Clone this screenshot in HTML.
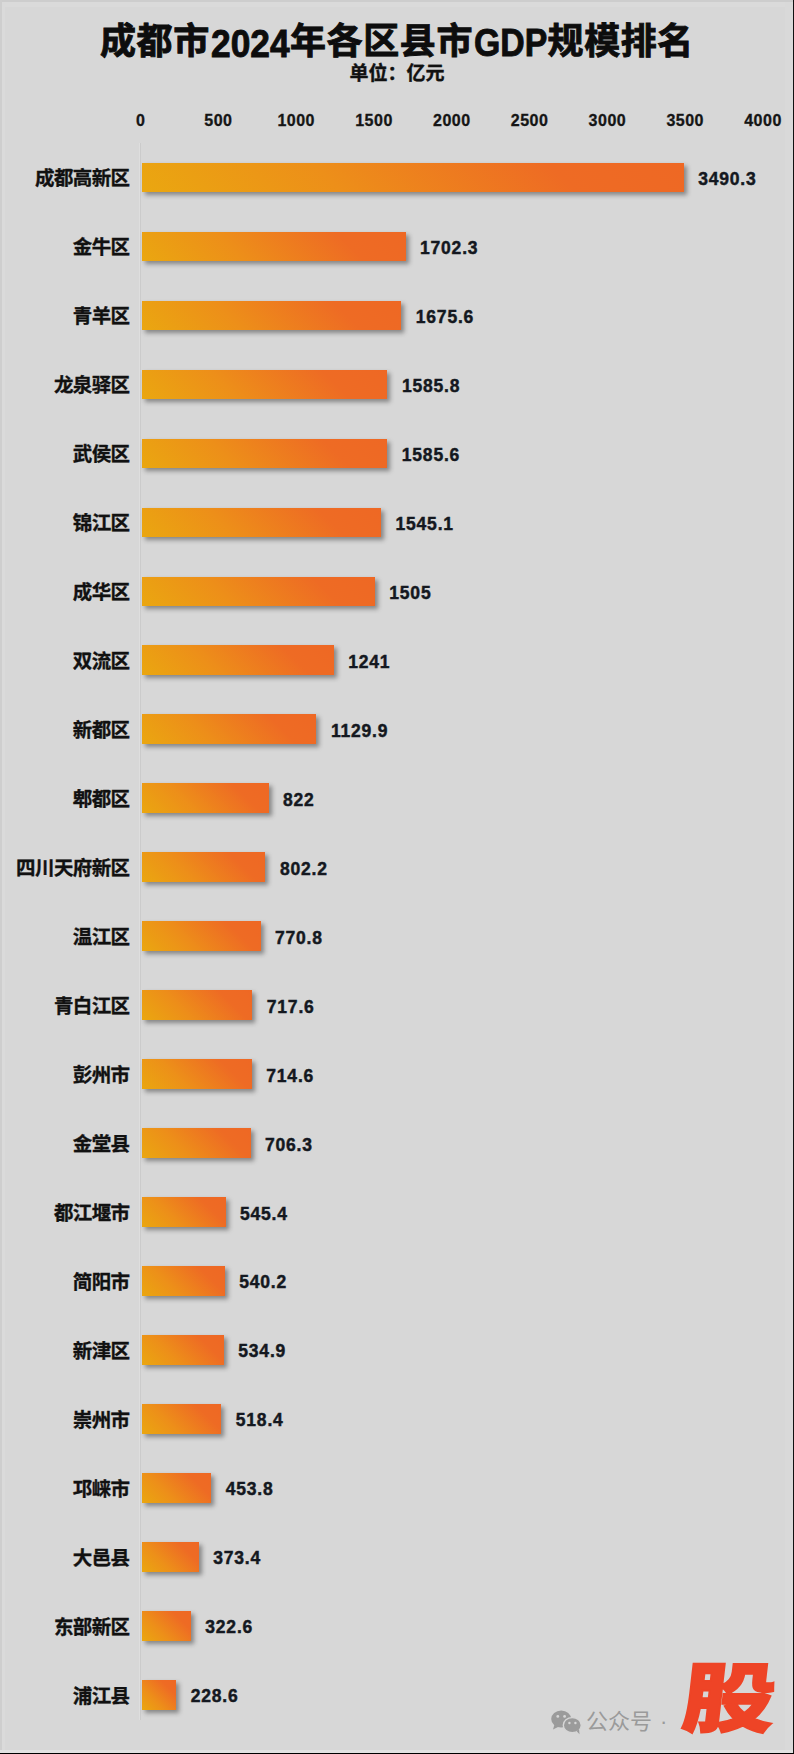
<!DOCTYPE html>
<html lang="zh-CN">
<head>
<meta charset="utf-8">
<title>成都市2024年各区县市GDP规模排名</title>
<style>
html,body{margin:0;padding:0;}
body{width:794px;height:1754px;position:relative;overflow:hidden;background:#d7d7d7;
 font-family:"Liberation Sans","Noto Sans CJK SC",sans-serif;font-weight:bold;color:#111;}
.abs{position:absolute;}
.title{left:0;width:794px;top:15px;height:52px;line-height:52px;text-align:center;font-size:36px;letter-spacing:.6px;white-space:nowrap;color:#0d0d0d;-webkit-text-stroke:.9px #0d0d0d;}
.title .n{display:inline-block;font-size:38px;letter-spacing:0;position:relative;top:3px;transform:scaleX(.93);transform-origin:0 50%;margin-right:-5.2px;margin-left:.8px;}
.title .g{display:inline-block;font-size:38px;letter-spacing:0;position:relative;top:2px;transform:scaleX(.89);transform-origin:0 50%;margin-right:-8.4px;margin-left:.6px;}
.sub{left:0;width:794px;top:61px;height:26px;line-height:26px;text-align:center;font-size:19px;white-space:nowrap;color:#111;-webkit-text-stroke:.4px #111;}
.tick{top:111px;height:20px;line-height:20px;width:80px;margin-left:-40px;text-align:center;font-size:16px;letter-spacing:.5px;color:#151515;-webkit-text-stroke:.3px #151515;}
.axis{left:140px;top:143px;width:1px;height:1577px;background:#cbcbcb;}
.axis2{left:139px;top:143px;width:1px;height:1577px;background:#dedede;}
.lab{left:0;width:129.5px;text-align:right;height:30px;line-height:30px;font-size:19.5px;white-space:nowrap;letter-spacing:-.6px;color:#111;-webkit-text-stroke:.35px #111;}
.bar{left:142px;height:29.5px;background:linear-gradient(45deg,#eaa710 0%,#ed8f19 35%,#ee6b24 76%,#ee6824 100%);box-shadow:3px 3px 4.5px rgba(0,0,0,.38);}
.bT1{left:0;top:0;width:794px;height:2px;background:#cdcdcd;}
.bT2{left:0;top:2px;width:794px;height:5px;background:#dadada;}
.bL1{left:0;top:0;width:2px;height:1754px;background:#cecece;}
.bL2{left:2px;top:2px;width:3px;height:1750px;background:#dadada;}
.bR2{left:785px;top:2px;width:8px;height:1750px;background:#d9d9d9;}
.bB2{left:0;top:1750px;width:794px;height:3px;background:#e2e2e2;}
.bR1{left:793px;top:0;width:1px;height:1754px;background:#111;}
.bB1{left:0;top:1753px;width:794px;height:1px;background:#000;}
.wm{left:586px;word-spacing:2px;top:1707px;height:30px;line-height:30px;font-size:22px;font-weight:normal;color:#9a9a9a;white-space:nowrap;}
.wx{left:550px;top:1707px;width:34px;height:28px;}
.gu{left:673px;top:1644.8px;width:100px;height:110px;line-height:110px;text-align:center;font-size:76px;font-weight:900;color:#ee4426;
 -webkit-text-stroke:1.6px #ee4426;transform:skewX(-6.5deg) scaleX(1.22);transform-origin:50% 100%;}
.val{height:30px;line-height:30px;font-size:17.5px;letter-spacing:.8px;white-space:nowrap;color:#141820;-webkit-text-stroke:.45px #141820;}
</style>
</head>
<body>
<div class="abs title">成都市<span class="n">2024</span>年各区县市<span class="g">GDP</span>规模排名</div>
<div class="abs sub">单位：亿元</div>
<div class="abs tick" style="left:140.6px">0</div>
<div class="abs tick" style="left:218.4px">500</div>
<div class="abs tick" style="left:296.2px">1000</div>
<div class="abs tick" style="left:374.0px">1500</div>
<div class="abs tick" style="left:451.8px">2000</div>
<div class="abs tick" style="left:529.6px">2500</div>
<div class="abs tick" style="left:607.4px">3000</div>
<div class="abs tick" style="left:685.2px">3500</div>
<div class="abs tick" style="left:763.0px">4000</div>
<div class="abs axis2"></div><div class="abs axis"></div>
<div class="abs lab" style="top:163.2px">成都高新区</div><div class="abs bar" style="top:162.7px;width:541.7px"></div><div class="abs val" style="top:163.9px;left:698.2px">3490.3</div>
<div class="abs lab" style="top:232.2px">金牛区</div><div class="abs bar" style="top:231.6px;width:263.5px"></div><div class="abs val" style="top:232.9px;left:420.0px">1702.3</div>
<div class="abs lab" style="top:301.1px">青羊区</div><div class="abs bar" style="top:300.6px;width:259.3px"></div><div class="abs val" style="top:301.8px;left:415.8px">1675.6</div>
<div class="abs lab" style="top:370.1px">龙泉驿区</div><div class="abs bar" style="top:369.6px;width:245.4px"></div><div class="abs val" style="top:370.8px;left:401.9px">1585.8</div>
<div class="abs lab" style="top:439.1px">武侯区</div><div class="abs bar" style="top:438.5px;width:245.3px"></div><div class="abs val" style="top:439.8px;left:401.8px">1585.6</div>
<div class="abs lab" style="top:508.1px">锦江区</div><div class="abs bar" style="top:507.5px;width:239.0px"></div><div class="abs val" style="top:508.8px;left:395.5px">1545.1</div>
<div class="abs lab" style="top:577.0px">成华区</div><div class="abs bar" style="top:576.5px;width:232.8px"></div><div class="abs val" style="top:577.7px;left:389.3px">1505</div>
<div class="abs lab" style="top:646.0px">双流区</div><div class="abs bar" style="top:645.4px;width:191.7px"></div><div class="abs val" style="top:646.7px;left:348.2px">1241</div>
<div class="abs lab" style="top:715.0px">新都区</div><div class="abs bar" style="top:714.4px;width:174.4px"></div><div class="abs val" style="top:715.7px;left:330.9px">1129.9</div>
<div class="abs lab" style="top:783.9px">郫都区</div><div class="abs bar" style="top:783.4px;width:126.5px"></div><div class="abs val" style="top:784.6px;left:283.0px">822</div>
<div class="abs lab" style="top:852.9px">四川天府新区</div><div class="abs bar" style="top:852.4px;width:123.4px"></div><div class="abs val" style="top:853.6px;left:279.9px">802.2</div>
<div class="abs lab" style="top:921.9px">温江区</div><div class="abs bar" style="top:921.3px;width:118.5px"></div><div class="abs val" style="top:922.6px;left:275.0px">770.8</div>
<div class="abs lab" style="top:990.8px">青白江区</div><div class="abs bar" style="top:990.3px;width:110.3px"></div><div class="abs val" style="top:991.5px;left:266.8px">717.6</div>
<div class="abs lab" style="top:1059.8px">彭州市</div><div class="abs bar" style="top:1059.3px;width:109.8px"></div><div class="abs val" style="top:1060.5px;left:266.3px">714.6</div>
<div class="abs lab" style="top:1128.8px">金堂县</div><div class="abs bar" style="top:1128.2px;width:108.5px"></div><div class="abs val" style="top:1129.5px;left:265.0px">706.3</div>
<div class="abs lab" style="top:1197.8px">都江堰市</div><div class="abs bar" style="top:1197.2px;width:83.5px"></div><div class="abs val" style="top:1198.5px;left:240.0px">545.4</div>
<div class="abs lab" style="top:1266.7px">简阳市</div><div class="abs bar" style="top:1266.2px;width:82.7px"></div><div class="abs val" style="top:1267.4px;left:239.2px">540.2</div>
<div class="abs lab" style="top:1335.7px">新津区</div><div class="abs bar" style="top:1335.1px;width:81.8px"></div><div class="abs val" style="top:1336.4px;left:238.3px">534.9</div>
<div class="abs lab" style="top:1404.7px">崇州市</div><div class="abs bar" style="top:1404.1px;width:79.3px"></div><div class="abs val" style="top:1405.4px;left:235.8px">518.4</div>
<div class="abs lab" style="top:1473.6px">邛崃市</div><div class="abs bar" style="top:1473.1px;width:69.2px"></div><div class="abs val" style="top:1474.3px;left:225.7px">453.8</div>
<div class="abs lab" style="top:1542.6px">大邑县</div><div class="abs bar" style="top:1542.1px;width:56.7px"></div><div class="abs val" style="top:1543.3px;left:213.2px">373.4</div>
<div class="abs lab" style="top:1611.6px">东部新区</div><div class="abs bar" style="top:1611.0px;width:48.8px"></div><div class="abs val" style="top:1612.3px;left:205.3px">322.6</div>
<div class="abs lab" style="top:1680.5px">浦江县</div><div class="abs bar" style="top:1680.0px;width:34.2px"></div><div class="abs val" style="top:1681.2px;left:190.7px">228.6</div>
<div class="abs bT1"></div><div class="abs bT2"></div><div class="abs bL1"></div><div class="abs bL2"></div><div class="abs bR2"></div><div class="abs bB2"></div><div class="abs bR1"></div><div class="abs bB1"></div>
<svg class="abs wx" viewBox="0 0 34 28"><g fill="#9b9b9b"><ellipse cx="11.2" cy="12" rx="10" ry="8.6"/><path d="M4.5 17.5 L3 22.5 L9 19.5 Z"/><ellipse cx="22.3" cy="18.2" rx="9" ry="7.6" stroke="#d7d7d7" stroke-width="1.4"/><path d="M26.5 24 L29.5 27.2 L29 22 Z"/></g><g fill="#d7d7d7"><circle cx="7.8" cy="9.4" r="1.4"/><circle cx="14.6" cy="9.4" r="1.4"/><circle cx="19.4" cy="16" r="1.2"/><circle cx="25.4" cy="16" r="1.2"/></g></svg>
<div class="abs wm">公众号 ·</div>
<div class="abs gu">股</div>
</body>
</html>
